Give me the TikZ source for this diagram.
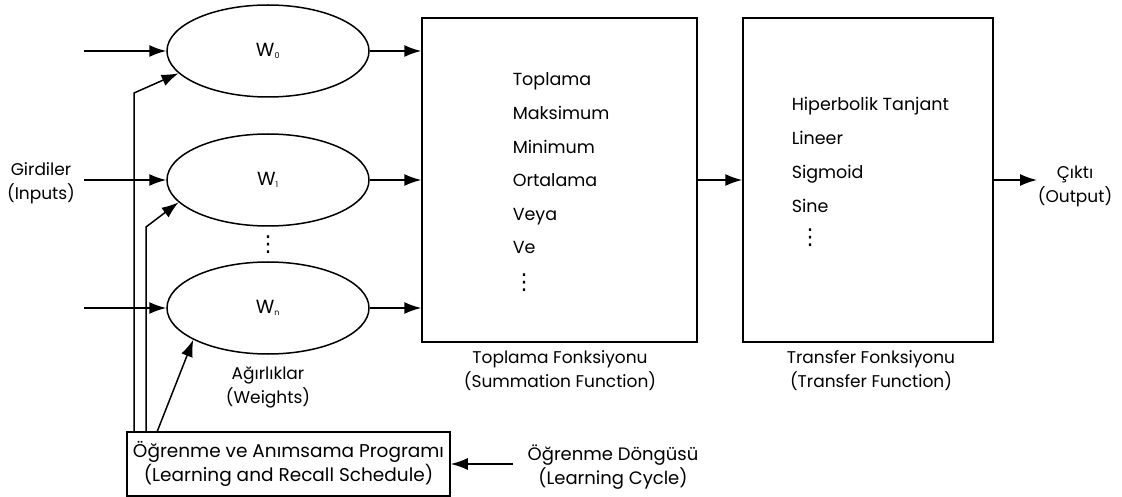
\documentclass[tikz,border=0pt]{standalone}
\usepackage{fontspec}
\setmainfont{Poppins}
\newfontfamily\symfont{DejaVu Sans}
\usetikzlibrary{arrows.meta,shapes.geometric}
\newcommand{\wsub}[1]{\textsubscript{\fontsize{8}{8}\selectfont #1}}

\begin{document}
\begin{tikzpicture}[x=1pt,y=-1pt,
  line width=1.5pt,
  arr/.style={-{Latex[length=17pt,width=12pt]}},
  weight/.style={draw, ellipse, minimum width=202pt, minimum height=92pt,
    inner sep=0pt, font=\fontsize{19}{20}\selectfont},
  funcbox/.style={draw, rectangle, minimum height=324pt, inner sep=0pt},
  lbl/.style={align=center, font=\fontsize{17}{24}\selectfont, inner sep=0pt},
  item/.style={anchor=base west, font=\fontsize{17.5}{18}\selectfont, inner sep=0pt},
  vdotsn/.style={font=\symfont\fontsize{22}{24}\selectfont, inner sep=0pt}
]
\useasboundingbox (0,0) rectangle (1122,497);

% weight ellipses
\node[weight] (w0) at (268,51)  {W\wsub{0}};
\node[weight] (w1) at (268,180) {W\wsub{1}};
\node[weight] (wn) at (268,308) {W\wsub{n}};
\node[vdotsn] (wdots) at (268,245) {⋮};
\node[lbl] (wlab) at (268,387) {Ağırlıklar\\(Weights)};

% inputs
\node[lbl] (inlab) at (41,183) {Girdiler\\(Inputs)};
\coordinate (i0) at (84,51);
\coordinate (i1) at (84,180);
\coordinate (in) at (84,308);
\draw[arr] (i0) -- (w0.west);
\draw[arr] (i1) -- (w1.west);
\draw[arr] (in) -- (wn.west);

% summation box
\node[funcbox, minimum width=275pt] (sum) at (559.5,180) {};
\foreach \t [count=\i] in {Toplama,Maksimum,Minimum,Ortalama,Veya,Ve}
  \node[item] (s\i) at (512,{86+33.6*(\i-1)}) {\t};
\node[vdotsn] (sdots) at (524,283) {⋮};
\node[lbl] (sumlab) at (560,371) {Toplama Fonksiyonu\\(Summation Function)};

\draw[arr] (w0.east) -- (w0.east -| sum.west);
\draw[arr] (w1.east) -- (w1.east -| sum.west);
\draw[arr] (wn.east) -- (wn.east -| sum.west);

% transfer box
\node[funcbox, minimum width=250pt] (tr) at (868,180) {};
\foreach \t [count=\i] in {Hiperbolik Tanjant,Lineer,Sigmoid,Sine}
  \node[item] (t\i) at (791,{111+33.7*(\i-1)}) {\t};
\node[vdotsn] (tdots) at (810,238) {⋮};
\node[lbl] (trlab) at (871,371) {Transfer Fonksiyonu\\(Transfer Function)};

\draw[arr] (sum.east) -- (tr.west);

% output
\coordinate (out) at (1037,180);
\draw[arr] (tr.east) -- (out);
\node[lbl] (outlab) at (1075,186) {Çıktı\\(Output)};

% learning schedule
\node[draw, rectangle, minimum width=323pt, minimum height=64pt, inner sep=0pt,
  align=center, font=\fontsize{18.5}{24}\selectfont] (learn) at (288.5,464)
  {Öğrenme ve Anımsama Programı\\(Learning and Recall Schedule)};
\node[lbl, font=\fontsize{18}{24}\selectfont] (cyc) at (613,467)
  {Öğrenme Döngüsü\\(Learning Cycle)};
\coordinate (cycend) at (513,464);
\draw[arr] (cycend) -- (learn.east);

\coordinate (l1) at (134,432);
\coordinate (l2) at (146,432);
\coordinate (l3) at (157,432);
\draw[arr] (l1) -- (134,93) -- (w0.194);
\draw[arr] (l2) -- (146,227) -- (w1.194);
\draw[arr] (l3) -- (wn.203);
\end{tikzpicture}
\end{document}
